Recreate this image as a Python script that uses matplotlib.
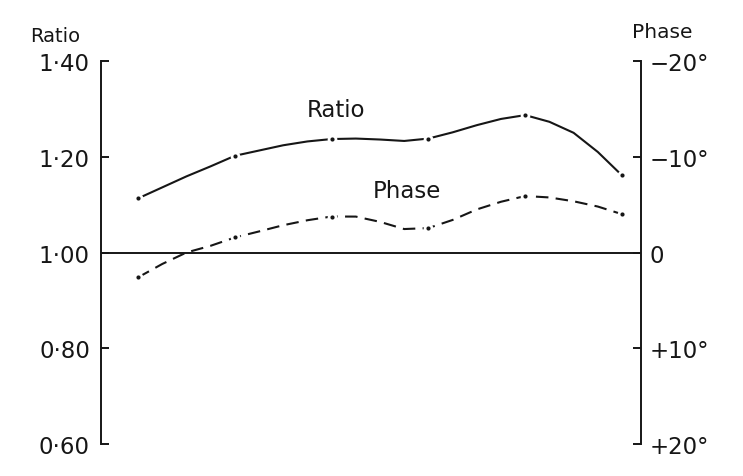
import numpy as np
import matplotlib
matplotlib.use("Agg")
import matplotlib.pyplot as plt

x = [1.0, 1.25, 1.5, 1.75, 2.0, 2.25, 2.5, 2.75, 3.0, 3.25, 3.5, 3.75,
     4.0, 4.25, 4.5, 4.75, 5.0, 5.25, 5.5, 5.75, 6.0]
ratio = [1.113, 1.136, 1.159, 1.180, 1.202, 1.213, 1.224, 1.232, 1.237, 1.238,
         1.236, 1.233, 1.238, 1.251, 1.266, 1.279, 1.287, 1.273, 1.250, 1.210, 1.161]
phase = [2.6, 1.2, 0.0, -0.7, -1.57, -2.2, -2.85, -3.37, -3.76, -3.75,
         -3.2, -2.45, -2.55, -3.4, -4.5, -5.3, -5.9, -5.75, -5.35, -4.8, -4.0]

# measured points (dots)
x_pts = [1, 2, 3, 4, 5, 6]
ratio_pts = [1.113, 1.202, 1.237, 1.238, 1.287, 1.161]
phase_pts = [2.6, -1.57, -3.76, -2.55, -5.9, -4.0]

ratio_ticks = [0.60, 0.80, 1.00, 1.20, 1.40]
ratio_labels = ["0\u00b760", "0\u00b780", "1\u00b700", "1\u00b720", "1\u00b740"]
phase_ticks = [-20, -10, 0, 10, 20]
phase_labels = ["\u221220\u00b0", "\u221210\u00b0", "0", "+10\u00b0", "+20\u00b0"]

plt.rcParams['font.family'] = ['DejaVu Sans']
ink = "#161616"

fig = plt.figure(figsize=(7.43, 4.77), dpi=100)
ax = fig.add_axes([0.136, 0.0671, 0.7267, 0.8029])
ax2 = ax.twinx()

ax.set_xlim(0.618, 6.196)
ax.set_ylim(0.60, 1.40)
ax2.set_ylim(20, -20)

ax.axhline(1.0, color=ink, lw=1.4)

ax.plot(x, ratio, color=ink, lw=1.5, solid_capstyle="butt")
ax2.plot(x, phase, color=ink, lw=1.5, dashes=(6, 3.5))
# white halo so the curve breaks around each point
ax.plot(x_pts, ratio_pts, "o", ms=3, mfc=ink, mec="white", mew=4)
ax2.plot(x_pts, phase_pts, "o", ms=3, mfc=ink, mec="white", mew=4)
ax.plot(x_pts, ratio_pts, "o", ms=3, color=ink, mew=0)
ax2.plot(x_pts, phase_pts, "o", ms=3, color=ink, mew=0)

for a in (ax, ax2):
    for s in ("top", "bottom"):
        a.spines[s].set_visible(False)
    a.set_xticks([])
ax.spines["right"].set_visible(False)
ax.spines["left"].set_linewidth(1.4)
ax.spines["left"].set_color(ink)
ax2.spines["left"].set_visible(False)
ax2.spines["right"].set_linewidth(1.4)
ax2.spines["right"].set_color(ink)

ax.set_yticks(ratio_ticks)
ax.set_yticklabels(ratio_labels)
ax.tick_params(axis="y", direction="in", length=6, width=1.4, color=ink,
               labelsize=16.5, pad=8, labelcolor=ink)
ax2.set_yticks(phase_ticks)
ax2.set_yticklabels(phase_labels)
ax2.tick_params(axis="y", direction="in", length=6, width=1.4, color=ink,
                labelsize=16.5, pad=6, labelcolor=ink)

fig.text(55 / 743, 1 - 37 / 477, "Ratio", fontsize=14, color=ink,
         ha="center", va="center")
fig.text(662 / 743, 1 - 33 / 477, "Phase", fontsize=14.5, color=ink,
         ha="center", va="center")

ax.text(3.05, 1.299, "Ratio", fontsize=16.5, color=ink, ha="center", va="center")
ax.text(3.78, 1.130, "Phase", fontsize=16.5, color=ink, ha="center", va="center")

fig.savefig("out.png", dpi=100, facecolor="white")
